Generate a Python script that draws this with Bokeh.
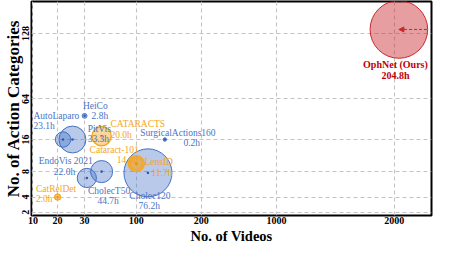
import numpy as np
from bokeh.plotting import figure
from bokeh.models import Range1d, FixedTicker, Arrow, NormalHead, ColumnDataSource, Title
from bokeh.embed import file_html
from bokeh.resources import INLINE
from bokeh.core.properties import value

# ---------------- data ----------------
names = ["AutoLaparo", "PitVis", "HeiCo", "CATARACTS", "Cataract-101", "LensID",
         "SurgicalActions160", "EndoVis 2021", "CholecT50", "Cholec120", "CatRelDet",
         "OphNet (Ours)"]
hours = [23.1, 33.3, 2.8, 20.0, 14.0, 11.7, 0.2, 22.0, 44.7, 76.2, 2.0, 204.8]
videos = [22, 25.5, 30, 53, 100, 100, 144, 33, 53, 118, 20, 2040]
categories = [16, 16, 44, 20, 10, 10, 16, 7, 8, 7.8, 4, 132]
bubble_area = [64, 196, 6.3, 100, 69, 42, 3.2, 100, 132, 625, 9, 900]  # relative bubble area
group = ["blue", "blue", "blue", "orange", "orange", "orange", "blue", "blue", "blue",
         "blue", "orange", "red"]

x_ticks = [10, 20, 30, 100, 200, 1000, 2000]
y_ticks = [2, 4, 8, 16, 64, 128]
x_tick_labels = ["10", "20", "30", "100", "200", "1000", "2000"]
y_tick_labels = ["2", "4", "8", "16", "64", "128"]

# ---------------- custom (piecewise) axis scale ----------------
X_LAYOUT = [29.5, 55.3, 83.5, 137.5, 205.3, 284.0, 407.0]
Y_LAYOUT = [228.5, 212.3, 185.0, 150.7, 107.3, 37.3]
X_SPAN = (28.0, 446.0)
Y_SPAN = (232.0, 3.0)


def warp(v, knots, pos):
    v = np.asarray(v, float)
    knots = np.asarray(knots, float)
    pos = np.asarray(pos, float)
    out = np.interp(v, knots, pos)
    lo = v < knots[0]
    hi = v > knots[-1]
    out[lo] = pos[0] + (v[lo] - knots[0]) * (pos[1] - pos[0]) / (knots[1] - knots[0])
    out[hi] = pos[-1] + (v[hi] - knots[-1]) * (pos[-1] - pos[-2]) / (knots[-1] - knots[-2])
    return out


px = warp(videos, x_ticks, X_LAYOUT)
py = warp(categories, y_ticks, Y_LAYOUT)

# ---------------- styles ----------------
FONT = "Liberation Serif"
COL = {"blue": "#4472C4", "orange": "#F5A623", "red": "#C8282D"}
TXT = {"blue": "#4A74C6", "orange": "#F5A623", "red": "#C00000"}
DOT = {"blue": "#2F58A8", "orange": "#E8921A", "red": "#C8282D"}
FILL_ALPHA = {"blue": 0.38, "orange": 0.45, "red": 0.45}
EDGE_W = {"blue": 1.0, "orange": 1.4, "red": 1.0}

# label layout: (name dx, name dy, name align, hours dx, hours dy, hours align)
LAYOUT = {
    "AutoLaparo": (-30.9, -25.7, "left", -30.9, -14.7, "left"),
    "PitVis": (15.9, -11.7, "left", 15.9, -0.7, "left"),
    "HeiCo": (-1.8, -10.4, "left", 7.2, 0.3, "left"),
    "CATARACTS": (9.3, -13.1, "left", 9.3, -1.6, "left"),
    "Cataract-101": (2.5, -14.7, "right", 2.0, -3.9, "right"),
    "LensID": (8.5, -1.4, "left", 15.8, 9.6, "left"),
    "SurgicalActions160": (-25.6, -6.7, "left", 19.4, 3.6, "left"),
    "EndoVis 2021": (-22.0, -17.8, "center", -23.3, -6.8, "center"),
    "CholecT50": (7.8, 21.0, "center", 6.8, 32.0, "center"),
    "Cholec120": (2.0, 24.6, "center", 1.3, 36.0, "center"),
    "CatRelDet": (-22.6, -9.0, "left", -22.6, 1.7, "left"),
    "OphNet (Ours)": (-3.6, 37.8, "center", -3.6, 48.8, "center"),
}

p = figure(width=433, height=242, output_backend="svg", toolbar_location=None,
           x_range=Range1d(*X_SPAN), y_range=Range1d(*Y_SPAN),
           min_border_left=0, min_border_right=2, min_border_top=1, min_border_bottom=0)
p.background_fill_color = "white"
p.border_fill_color = "white"
p.outline_line_color = "black"
p.outline_line_width = 2

p.xaxis.ticker = FixedTicker(ticks=X_LAYOUT)
p.yaxis.ticker = FixedTicker(ticks=Y_LAYOUT)
p.xaxis.major_label_overrides = {t: s for t, s in zip(X_LAYOUT, x_tick_labels)}
p.yaxis.major_label_overrides = {t: s for t, s in zip(Y_LAYOUT, y_tick_labels)}
p.yaxis.major_label_orientation = "vertical"
p.yaxis.axis_label = "No. of Action Categories"
p.yaxis.axis_label_text_font_size = "17px"
p.yaxis.axis_label_standoff = -3
for ax in (p.xaxis, p.yaxis):
    ax.axis_line_color = None
    ax.major_tick_line_color = None
    ax.minor_tick_line_color = None
    ax.major_tick_out = 0
    ax.major_tick_in = 0
    ax.major_label_text_font = FONT
    ax.major_label_text_font_size = "10px"
    ax.major_label_text_font_style = "bold"
    ax.major_label_text_color = "black"
    ax.major_label_standoff = 2
    ax.axis_label_text_font = FONT
    ax.axis_label_text_font_style = "bold"
    ax.axis_label_text_color = "black"
p.xaxis.major_label_standoff = 1
xtitle = Title(text="No. of Videos", align="center", standoff=-2,
               text_font=FONT, text_font_size="14.5px", text_font_style="bold",
               text_color="black")
p.add_layout(xtitle, "below")
for g in (p.xgrid, p.ygrid):
    g.grid_line_color = "#c4c4c4"
    g.grid_line_dash = "4 3"
    g.grid_line_width = 1.1

R_SCALE = 0.96
radius = np.sqrt(np.asarray(bubble_area, float)) * R_SCALE

for grp in ["blue", "orange", "red"]:
    idx = [i for i, g in enumerate(group) if g == grp]
    src = ColumnDataSource(dict(x=px[idx], y=py[idx], s=2 * radius[idx]))
    p.scatter("x", "y", size="s", source=src, fill_color=COL[grp],
              fill_alpha=FILL_ALPHA[grp], line_color=COL[grp], line_width=EDGE_W[grp])
for grp in ["blue", "orange"]:
    idx = [i for i, g in enumerate(group) if g == grp]
    p.scatter(px[idx], py[idx], size=2.6, fill_color=DOT[grp], line_color=None)

# OphNet arrow (axis break hint)
io = names.index("OphNet (Ours)")
p.add_layout(Arrow(end=NormalHead(size=5, fill_color=COL["red"], line_color=COL["red"]),
                   x_start=px[io] + radius[io] * 1.02, y_start=py[io],
                   x_end=px[io], y_end=py[io],
                   line_color=COL["red"], line_width=1, line_dash="3 2"))

# data labels
rows = {}
for i, n in enumerate(names):
    ndx, ndy, nal, hdx, hdy, hal = LAYOUT[n]
    bold = group[i] == "red"
    for dx, dy, al, t in ((ndx, ndy, nal, n), (hdx, hdy, hal, f"{hours[i]:.1f}h")):
        key = (group[i], al, bold)
        rows.setdefault(key, dict(x=[], y=[], t=[]))
        rows[key]["x"].append(px[i] + dx)
        rows[key]["y"].append(py[i] + dy)
        rows[key]["t"].append(t)
for (grp, al, bold), d in rows.items():
    p.text("x", "y", text="t", source=ColumnDataSource(d), text_align=al,
           text_baseline="middle", text_font=value(FONT),
           text_font_size="10px" if bold else "9.5px",
           text_font_style="bold" if bold else "normal", text_color=TXT[grp])

open("out.html", "w").write(file_html(p, INLINE))
